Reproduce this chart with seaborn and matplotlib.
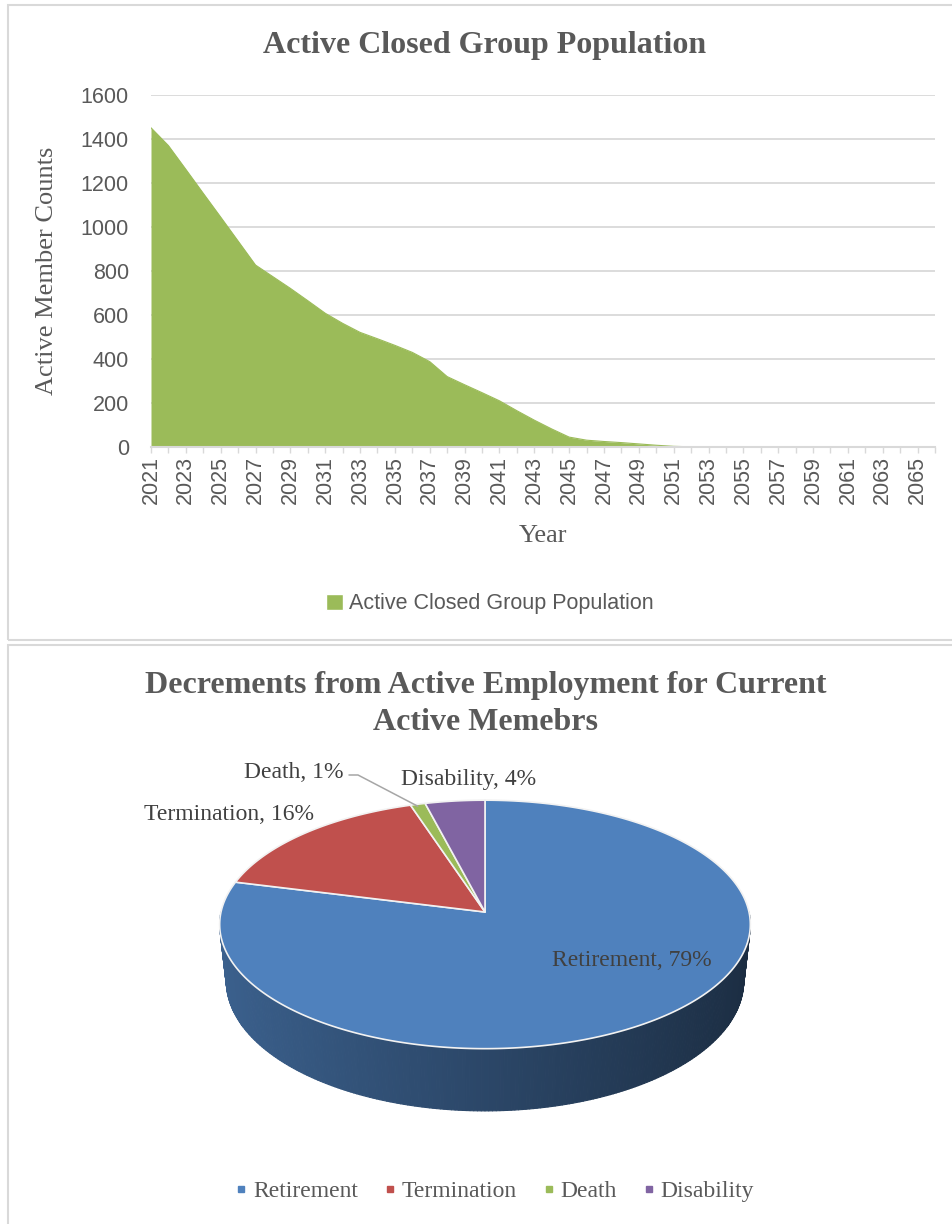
import numpy as np
import pandas as pd
import matplotlib
matplotlib.use("Agg")
import matplotlib.pyplot as plt
import matplotlib.colors as mcolors
import seaborn as sns
from matplotlib.patches import Polygon, Rectangle, Patch
from matplotlib.collections import PolyCollection
from matplotlib.lines import Line2D

# ---------------- data ----------------
years = list(range(2021, 2067))
active_counts = [1451, 1370, 1262, 1153, 1045, 936, 827, 774, 721, 665,
                 608, 562, 521, 492, 462, 430, 388, 320, 283, 247,
                 210, 165, 122, 82, 45, 31, 25, 20, 14, 8,
                 3, 1, 0, 0, 0, 0, 0, 0, 0, 0,
                 0, 0, 0, 0, 0, 0]
area_title = "Active Closed Group Population"
area_series = "Active Closed Group Population"
y_label = "Active Member Counts"
x_label = "Year"
y_ticks = [0, 200, 400, 600, 800, 1000, 1200, 1400, 1600]

pie_title_lines = ["Decrements from Active Employment for Current", "Active Memebrs"]
decrement_labels = ["Retirement", "Termination", "Death", "Disability"]
decrement_pcts = [79, 16, 1, 4]
decrement_colors = ["#4f81bd", "#c0504d", "#9bbb59", "#8064a2"]
area_color = "#9bbb59"

# ---------------- figure setup ----------------
W, H, DPI = 952, 1224, 100
sns.set_theme(style="white")
SANS = ["Liberation Sans", "DejaVu Sans"]
SERIF = ["Liberation Serif", "DejaVu Serif"]
plt.rcParams["font.family"] = SANS
TXT = "#595959"
GRID = "#d9d9d9"

fig = plt.figure(figsize=(W / DPI, H / DPI), dpi=DPI)
fig.patch.set_facecolor("white")


def fx(x):
    return x / W


def fy(y):
    return 1 - y / H


# panel frames
for top, bottom in [(5, 640), (645, 1240)]:
    fig.add_artist(Rectangle((fx(8), fy(bottom)), 1.0, fy(top) - fy(bottom),
                             transform=fig.transFigure, fill=False,
                             ec=GRID, lw=1.5))

# ---------------- area chart ----------------
ax = fig.add_axes([fx(151), fy(447), (935 - 151) / W, (447 - 95) / H])
df = pd.DataFrame({"Year": years, "Count": active_counts})
sns.lineplot(data=df, x="Year", y="Count", ax=ax, color=area_color, lw=0.8, zorder=1.9)
ax.fill_between(df["Year"], df["Count"], color=area_color, lw=0, zorder=1.8)
ax.set_xlim(years[0], years[-1])
ax.set_ylim(y_ticks[0], y_ticks[-1])
ax.set_yticks(y_ticks)
ax.yaxis.grid(True, color=GRID, lw=1.3)
ax.xaxis.grid(False)
ax.set_axisbelow(True)
ax.set_xticks(years)
ax.set_xticklabels([str(y) if (y - years[0]) % 2 == 0 else "" for y in years],
                   rotation=90)
ax.tick_params(axis="x", length=4.5, width=1, color=GRID, pad=2,
               labelsize=15.5, labelcolor=TXT, bottom=True)
ax.tick_params(axis="y", length=0, pad=16, labelsize=15.5, labelcolor=TXT)
for s in ["left", "right", "top"]:
    ax.spines[s].set_visible(False)
ax.spines["bottom"].set_color(GRID)
ax.spines["bottom"].set_linewidth(1.5)
ax.spines["bottom"].set_zorder(3)
ax.set_xlabel("")
ax.set_ylabel("")

fig.text(fx(485), fy(45), area_title, ha="center", va="center",
         family=SERIF, weight="bold", size=23, color=TXT)
fig.text(fx(47), fy(271), y_label, ha="center", va="center", rotation=90,
         family=SERIF, size=19, color=TXT)
fig.text(fx(543), fy(536), x_label, ha="center", va="center",
         family=SERIF, size=19, color=TXT)
fig.legend(handles=[Patch(facecolor=area_color, label=area_series)],
           loc="center", bbox_to_anchor=(fx(490), fy(604)), frameon=False,
           prop={"family": SANS, "size": 15.5}, labelcolor=TXT,
           handlelength=0.75, handleheight=0.75, handletextpad=0.3)

# ---------------- 3-D pie ----------------
pax = fig.add_axes([0, 0, 1, (H - 645) / H])
pax.set_xlim(0, W)
pax.set_ylim(H, 645)
pax.axis("off")

cx, cy, A, B, persp, depth, shrink = 485, 912, 264, 123, 0.1, 56, 0.025


def proj(t_deg, level=0.0):
    t = np.radians(t_deg)
    X, Z = np.cos(t), np.sin(t)
    s = 1.0 / (1.0 + persp * Z)
    return (cx + A * X * s * (1 - shrink * level),
            cy - B * Z * s + level * depth * s)


bounds = np.cumsum([0] + decrement_pcts)


def slice_at(t_deg):
    cw = ((90 - t_deg) % 360) / 360 * bounds[-1]
    return int(np.clip(np.searchsorted(bounds, cw, side="right") - 1,
                       0, len(decrement_pcts) - 1))


# front wall, shaded from left to right
ts = np.linspace(180, 360, 241)
polys, cols = [], []
for t0, t1 in zip(ts[:-1], ts[1:]):
    tm = 0.5 * (t0 + t1)
    base = np.array(mcolors.to_rgb(decrement_colors[slice_at(tm)]))
    f = 0.55 - 0.2 * np.cos(np.radians(tm))
    cols.append(tuple(np.clip(base * f, 0, 1)))
    polys.append([proj(t0, 0), proj(t1, 0), proj(t1, 1), proj(t0, 1)])
pax.add_collection(PolyCollection(polys, facecolors=cols, edgecolors=cols,
                                  linewidths=0.8))

# top face wedges, clockwise from 12 o'clock
mid_angles = []
for i, (lab, v, c) in enumerate(zip(decrement_labels, decrement_pcts, decrement_colors)):
    th1 = 90 - bounds[i] / bounds[-1] * 360
    th2 = 90 - bounds[i + 1] / bounds[-1] * 360
    arc = np.linspace(th1, th2, max(4, int(abs(th2 - th1) * 2)))
    pts = [(cx, cy)] + [proj(t) for t in arc]
    pax.add_patch(Polygon(pts, closed=True, fc=c, ec="#f2f2f2", lw=1.2,
                          joinstyle="round", zorder=3))
    mid_angles.append(0.5 * (th1 + th2))

# data labels
label_pos = {"Retirement": (632, 960), "Termination": (229, 814),
             "Death": (294, 773), "Disability": (469, 779)}
for lab, v in zip(decrement_labels, decrement_pcts):
    px_, py_ = label_pos[lab]
    pax.text(px_, py_, f"{lab}, {v}%", ha="center", va="center",
             family=SERIF, size=17, color="#404040", zorder=5)

# leader line for the thin slice
di = decrement_labels.index("Death")
rx, ry = proj(mid_angles[di])
pax.plot([349, 358, rx], [775, 775, ry + 2], color="#a6a6a6", lw=1.1, zorder=4)

# title
fig.text(fx(486), fy(686), pie_title_lines[0], ha="center", va="center",
         family=SERIF, weight="bold", size=23, color=TXT)
fig.text(fx(486), fy(722), pie_title_lines[1], ha="center", va="center",
         family=SERIF, weight="bold", size=23, color=TXT)

# legend
handles = [Line2D([0], [0], marker="s", ls="none", markersize=4.5,
                  mfc=c, mec=c, label=lab)
           for lab, c in zip(decrement_labels, decrement_colors)]
fig.legend(handles=handles, loc="center", bbox_to_anchor=(fx(493), fy(1191)),
           ncol=4, frameon=False, prop={"family": SERIF, "size": 17},
           labelcolor=TXT, handletextpad=0.1, columnspacing=0.95,
           handlelength=0.8)

fig.savefig("out.png", dpi=DPI)
